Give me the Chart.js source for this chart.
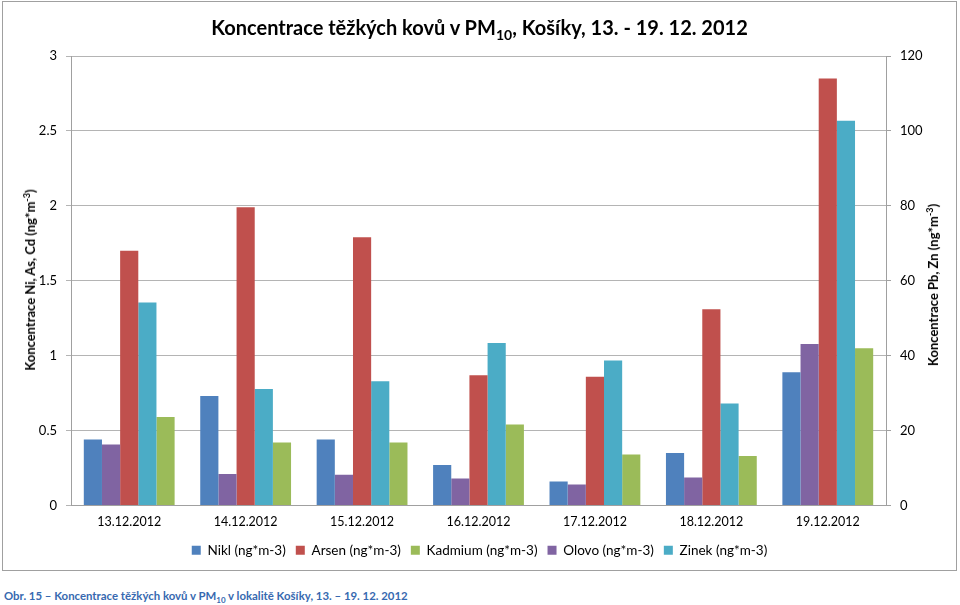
<!DOCTYPE html>
<html>
<head>
<meta charset="utf-8">
<script src="https://cdn.jsdelivr.net/npm/chart.js@4/dist/chart.umd.min.js"></script>
<style>
  body { margin: 0; background: #fff; font-family: Lato, sans-serif; }
  #box { position: absolute; left: 2px; top: 1px; width: 953px; height: 568px; border: 1px solid #a0a0a0; }
  #box canvas { position: absolute; left: 0; top: 0; }
  .title { position: absolute; left: 0; width: 953px; top: 13px; text-align: center; font-weight: bold; font-size: 20px; line-height: 24px; color: #000; }
  .axt { position: absolute; font-weight: bold; font-size: 13px; white-space: nowrap; transform: translate(-50%, -50%) rotate(-90deg); color: #000; }
  sub, sup { font-size: 70%; line-height: 0; }
  .caption { position: absolute; left: 4px; top: 589px; font-weight: bold; font-size: 11.4px; color: #3769b0; white-space: nowrap; }
</style>
</head>
<body>
<div id="box">
  <canvas id="chart" width="953" height="568"></canvas>
  <div class="title">Koncentrace těžkých kovů v PM<sub>10</sub>, Košíky, 13. - 19. 12. 2012</div>
  <div class="axt" style="left:27px; top:278px;">Koncentrace Ni, As, Cd (ng*m<sup>-3</sup>)</div>
  <div class="axt" style="left:930px; top:283px;">Koncentrace Pb, Zn (ng*m<sup>-3</sup>)</div>
</div>
<div class="caption">Obr. 15 – Koncentrace těžkých kovů v PM<sub>10</sub> v lokalitě Košíky, 13. – 19. 12. 2012</div>
<script>
const days = ['13.12.2012', '14.12.2012', '15.12.2012', '16.12.2012', '17.12.2012', '18.12.2012', '19.12.2012'];
// left axis (ng*m-3)
const nikl = [0.44, 0.73, 0.44, 0.27, 0.16, 0.35, 0.89];
const arsen = [1.70, 1.99, 1.79, 0.87, 0.86, 1.31, 2.85];
const kadmium = [0.59, 0.42, 0.42, 0.54, 0.34, 0.33, 1.05];
// right axis (ng*m-3)
const olovo = [16.3, 8.4, 8.2, 7.2, 5.6, 7.5, 43.1];
const zinek = [54.2, 31.1, 33.2, 43.4, 38.7, 27.2, 102.7];

const legendOrder = [0, 2, 4, 1, 3];
const gridCol = '#b4b4b4';

function bars(label, data, color, axis) {
    return { label: label, data: data, backgroundColor: color, borderWidth: 0, yAxisID: axis };
}

const ctx = document.getElementById('chart').getContext('2d');
Chart.defaults.font.family = 'Lato, sans-serif';
Chart.defaults.color = '#000';

new Chart(ctx, {
    type: 'bar',
    data: {
        labels: days,
        datasets: [
            bars('Nikl (ng*m-3)', nikl, '#4f81bd', 'y'),
            bars('Olovo (ng*m-3)', olovo, '#8064a2', 'y1'),
            bars('Arsen (ng*m-3)', arsen, '#c0504d', 'y'),
            bars('Zinek (ng*m-3)', zinek, '#4bacc6', 'y1'),
            bars('Kadmium (ng*m-3)', kadmium, '#9bbb59', 'y')
        ]
    },
    options: {
        responsive: false,
        animation: false,
        barPercentage: 1,
        categoryPercentage: 0.78,
        layout: { padding: { top: 54, bottom: 3, left: 0, right: 0 } },
        plugins: {
            tooltip: { enabled: false },
            legend: {
                position: 'bottom',
                labels: {
                    boxWidth: 9, boxHeight: 9, padding: 10,
                    font: { size: 13.5 },
                    sort: (a, b) => legendOrder.indexOf(a.datasetIndex) - legendOrder.indexOf(b.datasetIndex)
                }
            }
        },
        scales: {
            x: {
                grid: { drawOnChartArea: false, drawTicks: false },
                border: { color: '#a0a0a0' },
                ticks: { font: { size: 12.5 }, padding: 9, maxRotation: 0 },
                afterFit: s => { s.height = 28; }
            },
            y: {
                position: 'left',
                min: 0, max: 3,
                ticks: { stepSize: 0.5, font: { size: 13 }, padding: 9, callback: v => String(v) },
                grid: { color: gridCol, tickLength: 5 },
                border: { color: '#a0a0a0' },
                afterFit: s => { s.width = 68; }
            },
            y1: {
                position: 'right',
                min: 0, max: 120,
                ticks: { stepSize: 20, font: { size: 13 }, padding: 9 },
                grid: { drawOnChartArea: false, color: '#a0a0a0', tickLength: 5 },
                border: { color: '#a0a0a0' },
                afterFit: s => { s.width = 70; }
            }
        }
    }
});
</script>
</body>
</html>
